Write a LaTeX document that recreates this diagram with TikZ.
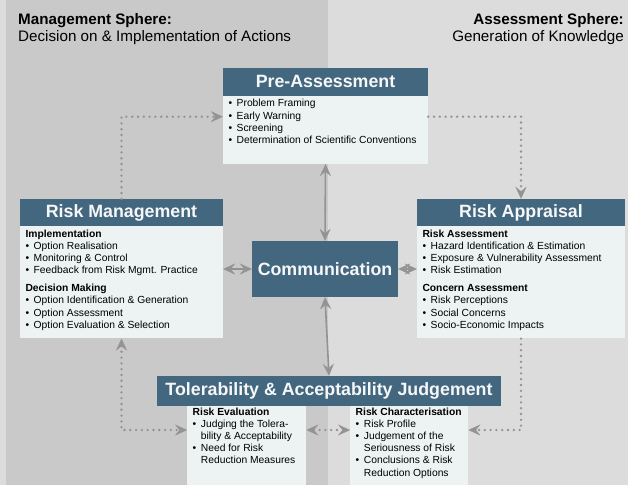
\documentclass[tikz,border=0pt]{standalone}
\usepackage{fontspec}
\setmainfont{Liberation Sans}
\usetikzlibrary{arrows.meta}
\definecolor{headblue}{HTML}{43677E}
\definecolor{boxfill}{HTML}{EDF2F2}
\definecolor{mgmtbg}{HTML}{C9C9C9}
\definecolor{assessbg}{HTML}{DCDCDC}
\definecolor{flowgrey}{HTML}{939393}
\newcommand{\listfont}{\fontsize{10.3}{12.2}\selectfont}
\newcommand{\titlefont}{\fontsize{17.8}{20}\selectfont\bfseries}
\newcommand{\spherefont}{\fontsize{15.2}{17}\selectfont}
\newcommand{\bul}{\textbullet\hspace{4.6pt}}

\begin{document}
\begin{tikzpicture}[x=1pt,y=-1pt,font=\listfont,
  >={Stealth[length=12pt,width=11pt,inset=4.5pt,line width=0.3pt]},
  head/.style={fill=headblue,text=white!95!headblue,font=\titlefont,inner sep=0pt},
  panel/.style={fill=boxfill,inner sep=0pt},
  items/.style={anchor=north west,align=left,inner sep=0pt},
  flow/.style={flowgrey,line width=2.6pt,line cap=round,dash pattern=on 0pt off 5.8pt,->},
  link/.style={flowgrey,line width=1.6pt,<->}]
\fill[assessbg] (0,0) rectangle (628,485);
\fill[mgmtbg] (6,0) rectangle (328,485);
\useasboundingbox (0,0) rectangle (628,485);

% the two spheres
\node[items,font=\spherefont] (mgmt) at (18,13)
  {\textbf{Management Sphere:}\\Decision on \& Implementation of Actions};
\node[anchor=north east,align=right,inner sep=0pt,font=\spherefont] (assess) at (624,13)
  {\textbf{Assessment Sphere:}\\Generation of Knowledge};

% pre-assessment
\node[head,minimum width=205,minimum height=28] (pre) at (325.5,81.5) {Pre-Assessment};
\node[panel,anchor=north,minimum width=205,minimum height=68] (pre-b) at (pre.south) {};
\node[items] (pre-t) at ([xshift=5.5pt,yshift=-3.5pt]pre-b.north west)
  {\bul Problem Framing\\\bul Early Warning\\\bul Screening\\
   \bul Determination of Scientific Conventions};

% risk management
\node[head,minimum width=203,minimum height=27] (rm) at (121.5,212.5) {Risk Management};
\node[panel,anchor=north,minimum width=203,minimum height=112] (rm-b) at (rm.south) {};
\node[items] (rm-t) at ([xshift=5.5pt,yshift=-3.5pt]rm-b.north west)
  {\textbf{Implementation}\\\bul Option Realisation\\\bul Monitoring \& Control\\
   \bul Feedback from Risk Mgmt. Practice\\[5.5pt]
   \textbf{Decision Making}\\\bul Option Identification \& Generation\\
   \bul Option Assessment\\\bul Option Evaluation \& Selection};

% risk appraisal
\node[head,minimum width=208,minimum height=27] (ra) at (521,212.5) {Risk Appraisal};
\node[panel,anchor=north,minimum width=208,minimum height=112] (ra-b) at (ra.south) {};
\node[items] (ra-t) at ([xshift=5.5pt,yshift=-3.5pt]ra-b.north west)
  {\textbf{Risk Assessment}\\\bul Hazard Identification \& Estimation\\
   \bul Exposure \& Vulnerability Assessment\\\bul Risk Estimation\\[5.5pt]
   \textbf{Concern Assessment}\\\bul Risk Perceptions\\\bul Social Concerns\\
   \bul Socio-Economic Impacts};

% communication
\node[head,minimum width=146,minimum height=56] (com) at (325,269) {Communication};

% tolerability & acceptability judgement
\node[head,minimum width=344,minimum height=30] (tol) at (329,391)
  {Tolerability \& Acceptability Judgement};
\node[panel,anchor=north west,minimum width=119,minimum height=79] (re) at (187,406) {};
\node[panel,anchor=north west,minimum width=118,minimum height=79] (rc) at (350,406) {};
\node[items] (re-t) at ([xshift=5.5pt,yshift=-1.5pt]re.north west)
  {\textbf{Risk Evaluation}\\\bul Judging the Tolera-\\\phantom{\bul}bility \& Acceptability\\
   \bul Need for Risk\\\phantom{\bul}Reduction Measures};
\node[items] (rc-t) at ([xshift=5.5pt,yshift=-1.5pt]rc.north west)
  {\textbf{Risk Characterisation}\\\bul Risk Profile\\\bul Judgement of the\\
   \phantom{\bul}Seriousness of Risk\\\bul Conclusions \& Risk\\\phantom{\bul}Reduction Options};

% cycle
\draw[flow] (rm.north) |- ([yshift=-21pt]pre-b.north west);
\draw[flow] ([yshift=-21pt]pre-b.north east) -| (ra.north);
\draw[flow] (ra-b.south) |- ([yshift=-24pt]rc.north east);
\draw[flow,<->] (rm-b.south) |- ([yshift=-24pt]re.north west);
\draw[flow,<->] ([yshift=-24pt]re.north east) -- ([yshift=-24pt]rc.north west);

% communication links
\draw[link] (pre-b.south) -- (com.north);
\draw[link] (com.south) -- (tol.north);
\draw[link] (com.west) -- (com.west -| rm-b.east);
\draw[link] (com.east) -- (com.east -| ra-b.west);
\end{tikzpicture}
\end{document}
